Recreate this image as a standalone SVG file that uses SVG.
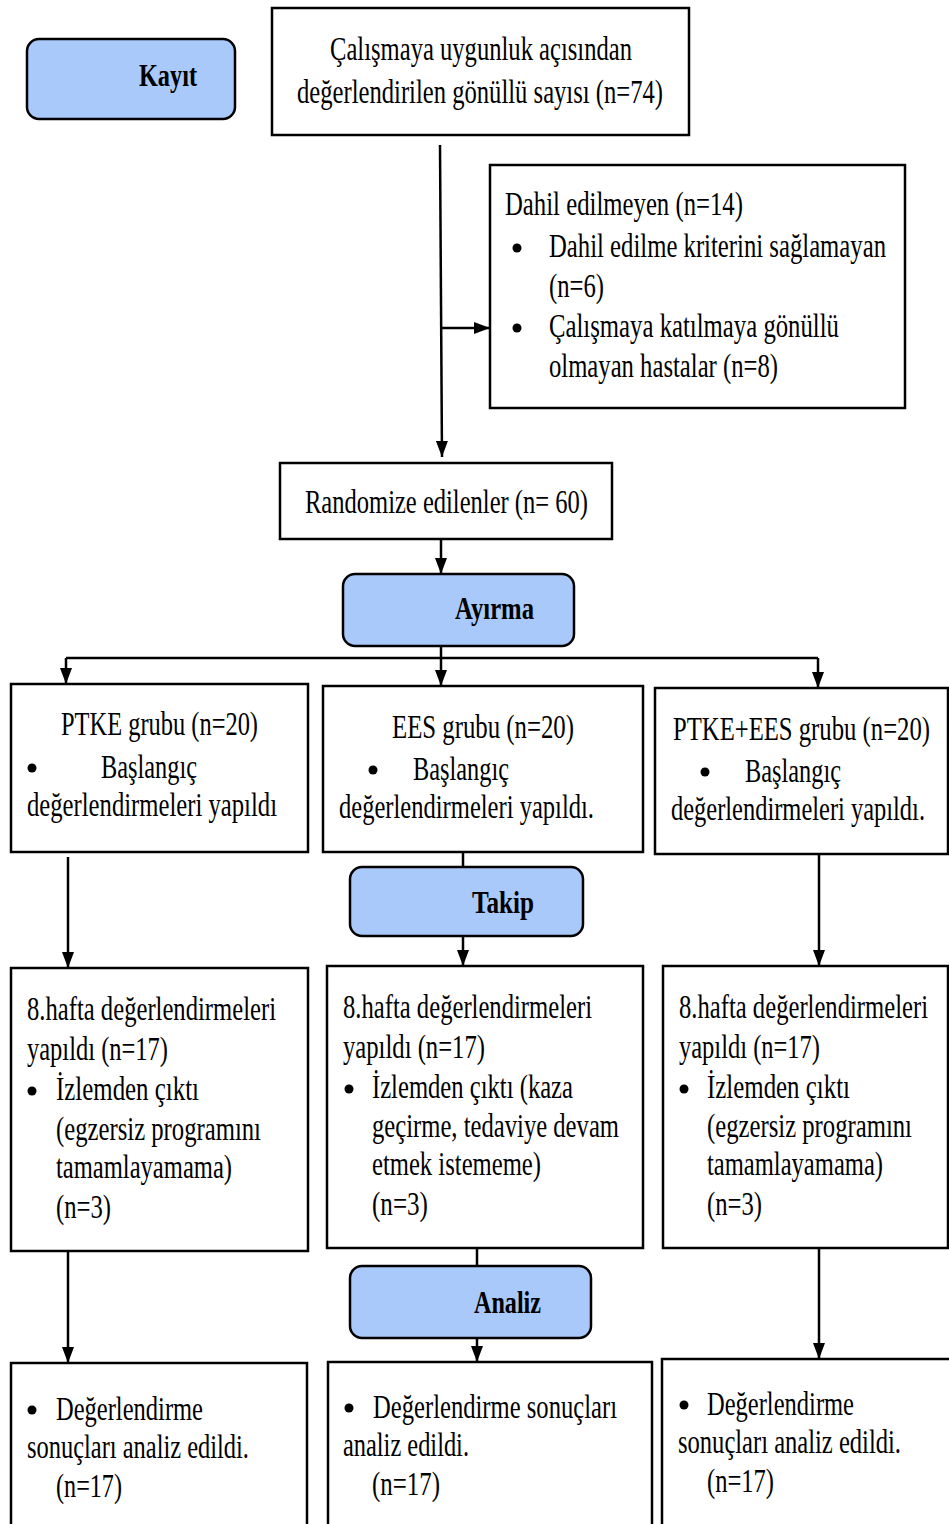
<svg xmlns="http://www.w3.org/2000/svg" width="949" height="1524" viewBox="0 0 949 1524">
<style>
.box{fill:#fff;stroke:#000;stroke-width:2.5}
.phase{fill:#a9c9fa;stroke:#000;stroke-width:2.5}
.t{font-family:"Liberation Serif","Times New Roman",serif;font-size:33px;fill:#000}
.b{font-family:"Liberation Serif","Times New Roman",serif;font-size:31px;font-weight:bold;fill:#000}
.c{fill:none;stroke:#000;stroke-width:2.5}
.dot{fill:#000}
</style>
<defs>
<marker id="ah" viewBox="0 0 16 12" refX="16" refY="6" markerWidth="16" markerHeight="12" markerUnits="userSpaceOnUse" orient="auto">
<path d="M0,0 L16,6 L0,12 z" fill="#000"/>
</marker>
</defs>
<g id="connectors">
<path class="c" d="M440,145 L442,457" marker-end="url(#ah)"/>
<path class="c" d="M441,328 L490,328" marker-end="url(#ah)"/>
<path class="c" d="M441,539 L441,574" marker-end="url(#ah)"/>
<path class="c" d="M441,646 L441,686" marker-end="url(#ah)"/>
<path class="c" d="M66,658 L818,658"/>
<path class="c" d="M66,658 L66,684" marker-end="url(#ah)"/>
<path class="c" d="M818,658 L818,688" marker-end="url(#ah)"/>
<path class="c" d="M463,852 L463,867"/>
<path class="c" d="M463,936 L463,966" marker-end="url(#ah)"/>
<path class="c" d="M68,857 L68,968" marker-end="url(#ah)"/>
<path class="c" d="M819,855 L819,966" marker-end="url(#ah)"/>
<path class="c" d="M477,1248 L477,1266"/>
<path class="c" d="M477,1338 L477,1362" marker-end="url(#ah)"/>
<path class="c" d="M68,1251 L68,1363" marker-end="url(#ah)"/>
<path class="c" d="M819,1248 L819,1359" marker-end="url(#ah)"/>
</g>
<g id="kayit">
<rect class="phase" x="27" y="39" width="208" height="80" rx="12"/>
<g transform="scale(0.75,1)">
<text class="b" x="185.33" y="86" textLength="77.33" lengthAdjust="spacingAndGlyphs">Kayıt</text>
</g>
</g>
<g id="screened">
<rect class="box" x="272" y="8" width="417" height="127"/>
<g transform="scale(0.75,1)">
<text class="t" x="440" y="60" textLength="402.67" lengthAdjust="spacingAndGlyphs">Çalışmaya uygunluk açısından</text>
<text class="t" x="396" y="103" textLength="488" lengthAdjust="spacingAndGlyphs">değerlendirilen gönüllü sayısı (n=74)</text>
</g>
</g>
<g id="excluded">
<rect class="box" x="490" y="165" width="415" height="243"/>
<circle class="dot" cx="517" cy="248" r="4.5"/>
<circle class="dot" cx="517" cy="328" r="4.5"/>
<g transform="scale(0.75,1)">
<text class="t" x="673.33" y="215" textLength="317.33" lengthAdjust="spacingAndGlyphs">Dahil edilmeyen (n=14)</text>
<text class="t" x="732" y="257" textLength="449.33" lengthAdjust="spacingAndGlyphs">Dahil edilme kriterini sağlamayan</text>
<text class="t" x="732" y="297" textLength="73.33" lengthAdjust="spacingAndGlyphs">(n=6)</text>
<text class="t" x="732" y="337" textLength="386.67" lengthAdjust="spacingAndGlyphs">Çalışmaya katılmaya gönüllü</text>
<text class="t" x="732" y="377" textLength="305.33" lengthAdjust="spacingAndGlyphs">olmayan hastalar (n=8)</text>
</g>
</g>
<g id="randomized">
<rect class="box" x="280" y="463" width="332" height="76"/>
<g transform="scale(0.75,1)">
<text class="t" x="406.67" y="513" textLength="377.33" lengthAdjust="spacingAndGlyphs">Randomize edilenler (n= 60)</text>
</g>
</g>
<g id="ayirma">
<rect class="phase" x="343" y="574" width="231" height="72" rx="12"/>
<g transform="scale(0.75,1)">
<text class="b" x="606.67" y="619" textLength="105.33" lengthAdjust="spacingAndGlyphs">Ayırma</text>
</g>
</g>
<g id="ptke">
<rect class="box" x="11" y="684" width="297" height="168"/>
<circle class="dot" cx="32" cy="768" r="4.5"/>
<g transform="scale(0.75,1)">
<text class="t" x="81.33" y="735" textLength="262.67" lengthAdjust="spacingAndGlyphs">PTKE grubu (n=20)</text>
<text class="t" x="134.67" y="778" textLength="128" lengthAdjust="spacingAndGlyphs">Başlangıç</text>
<text class="t" x="36" y="816" textLength="333.33" lengthAdjust="spacingAndGlyphs">değerlendirmeleri yapıldı</text>
</g>
</g>
<g id="ees">
<rect class="box" x="323" y="686" width="320" height="166"/>
<circle class="dot" cx="373" cy="770" r="4.5"/>
<g transform="scale(0.75,1)">
<text class="t" x="522.67" y="738" textLength="242.67" lengthAdjust="spacingAndGlyphs">EES grubu (n=20)</text>
<text class="t" x="550.67" y="780" textLength="128" lengthAdjust="spacingAndGlyphs">Başlangıç</text>
<text class="t" x="452" y="818" textLength="340" lengthAdjust="spacingAndGlyphs">değerlendirmeleri yapıldı.</text>
</g>
</g>
<g id="ptkeees">
<rect class="box" x="655" y="688" width="293" height="166"/>
<circle class="dot" cx="705" cy="772" r="4.5"/>
<g transform="scale(0.75,1)">
<text class="t" x="897.33" y="740" textLength="342.67" lengthAdjust="spacingAndGlyphs">PTKE+EES grubu (n=20)</text>
<text class="t" x="993.33" y="782" textLength="128" lengthAdjust="spacingAndGlyphs">Başlangıç</text>
<text class="t" x="894.67" y="820" textLength="338.67" lengthAdjust="spacingAndGlyphs">değerlendirmeleri yapıldı.</text>
</g>
</g>
<g id="takip">
<rect class="phase" x="350" y="867" width="233" height="69" rx="12"/>
<g transform="scale(0.75,1)">
<text class="b" x="629.33" y="913" textLength="82.67" lengthAdjust="spacingAndGlyphs">Takip</text>
</g>
</g>
<g id="ptke8">
<rect class="box" x="11" y="968" width="297" height="283"/>
<circle class="dot" cx="32" cy="1091" r="4.5"/>
<g transform="scale(0.75,1)">
<text class="t" x="36" y="1020" textLength="332" lengthAdjust="spacingAndGlyphs">8.hafta değerlendirmeleri</text>
<text class="t" x="36" y="1060" textLength="188" lengthAdjust="spacingAndGlyphs">yapıldı (n=17)</text>
<text class="t" x="74.67" y="1100" textLength="190.67" lengthAdjust="spacingAndGlyphs">İzlemden çıktı</text>
<text class="t" x="74.67" y="1140" textLength="273.33" lengthAdjust="spacingAndGlyphs">(egzersiz programını</text>
<text class="t" x="74.67" y="1178" textLength="234.67" lengthAdjust="spacingAndGlyphs">tamamlayamama)</text>
<text class="t" x="74.67" y="1218" textLength="73.33" lengthAdjust="spacingAndGlyphs">(n=3)</text>
</g>
</g>
<g id="ees8">
<rect class="box" x="327" y="966" width="316" height="282"/>
<circle class="dot" cx="349" cy="1089" r="4.5"/>
<g transform="scale(0.75,1)">
<text class="t" x="457.33" y="1018" textLength="332" lengthAdjust="spacingAndGlyphs">8.hafta değerlendirmeleri</text>
<text class="t" x="457.33" y="1058" textLength="189.33" lengthAdjust="spacingAndGlyphs">yapıldı (n=17)</text>
<text class="t" x="496" y="1098" textLength="268" lengthAdjust="spacingAndGlyphs">İzlemden çıktı (kaza</text>
<text class="t" x="496" y="1137" textLength="329.33" lengthAdjust="spacingAndGlyphs">geçirme, tedaviye devam</text>
<text class="t" x="496" y="1175" textLength="225.33" lengthAdjust="spacingAndGlyphs">etmek istememe)</text>
<text class="t" x="496" y="1215" textLength="74.67" lengthAdjust="spacingAndGlyphs">(n=3)</text>
</g>
</g>
<g id="ptkeees8">
<rect class="box" x="663" y="966" width="285" height="282"/>
<circle class="dot" cx="684" cy="1089" r="4.5"/>
<g transform="scale(0.75,1)">
<text class="t" x="905.33" y="1018" textLength="332" lengthAdjust="spacingAndGlyphs">8.hafta değerlendirmeleri</text>
<text class="t" x="905.33" y="1058" textLength="188" lengthAdjust="spacingAndGlyphs">yapıldı (n=17)</text>
<text class="t" x="942.67" y="1098" textLength="190.67" lengthAdjust="spacingAndGlyphs">İzlemden çıktı</text>
<text class="t" x="942.67" y="1137" textLength="273.33" lengthAdjust="spacingAndGlyphs">(egzersiz programını</text>
<text class="t" x="942.67" y="1175" textLength="234.67" lengthAdjust="spacingAndGlyphs">tamamlayamama)</text>
<text class="t" x="942.67" y="1215" textLength="73.33" lengthAdjust="spacingAndGlyphs">(n=3)</text>
</g>
</g>
<g id="analiz">
<rect class="phase" x="350" y="1266" width="241" height="72" rx="12"/>
<g transform="scale(0.75,1)">
<text class="b" x="632" y="1313" textLength="89.33" lengthAdjust="spacingAndGlyphs">Analiz</text>
</g>
</g>
<g id="ptkeA">
<rect class="box" x="11" y="1363" width="296" height="175"/>
<circle class="dot" cx="32" cy="1410" r="4.5"/>
<g transform="scale(0.75,1)">
<text class="t" x="74.67" y="1420" textLength="196" lengthAdjust="spacingAndGlyphs">Değerlendirme</text>
<text class="t" x="36" y="1458" textLength="296" lengthAdjust="spacingAndGlyphs">sonuçları analiz edildi.</text>
<text class="t" x="74.67" y="1497" textLength="88" lengthAdjust="spacingAndGlyphs">(n=17)</text>
</g>
</g>
<g id="eesA">
<rect class="box" x="328" y="1362" width="324" height="176"/>
<circle class="dot" cx="349" cy="1408" r="4.5"/>
<g transform="scale(0.75,1)">
<text class="t" x="497.33" y="1418" textLength="325.33" lengthAdjust="spacingAndGlyphs">Değerlendirme sonuçları</text>
<text class="t" x="457.33" y="1456" textLength="168" lengthAdjust="spacingAndGlyphs">analiz edildi.</text>
<text class="t" x="496" y="1495" textLength="90.67" lengthAdjust="spacingAndGlyphs">(n=17)</text>
</g>
</g>
<g id="ptkeeesA">
<rect class="box" x="662" y="1359" width="290" height="179"/>
<circle class="dot" cx="684" cy="1405" r="4.5"/>
<g transform="scale(0.75,1)">
<text class="t" x="942.67" y="1415" textLength="196" lengthAdjust="spacingAndGlyphs">Değerlendirme</text>
<text class="t" x="904" y="1453" textLength="297.33" lengthAdjust="spacingAndGlyphs">sonuçları analiz edildi.</text>
<text class="t" x="942.67" y="1492" textLength="89.33" lengthAdjust="spacingAndGlyphs">(n=17)</text>
</g>
</g>
</svg>
